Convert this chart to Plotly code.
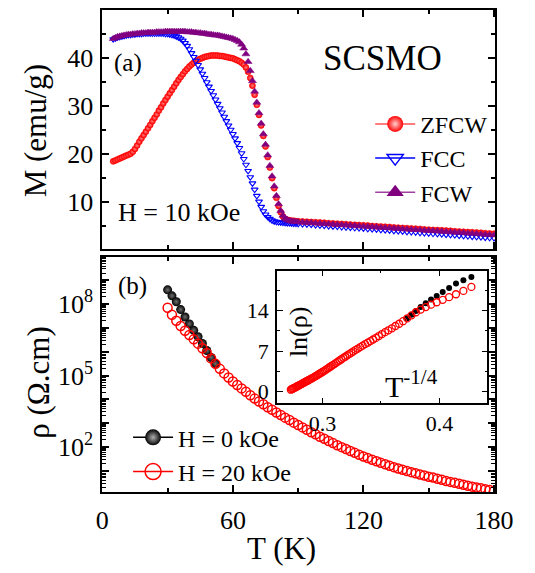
import numpy as np
import plotly.graph_objects as go

# ---------------- data: panel (a) magnetization ----------------
T_M = list(range(5, 91)) + list(range(92, 181, 2))

M_ZFCW = [
    18.5, 18.7, 18.9, 19.1, 19.3, 19.5, 19.7, 19.9, 20.1, 20.5,   # 5-14
    21.1, 21.8, 22.6, 23.3, 24.0, 24.7, 25.4, 26.1, 26.9, 27.6,   # 15-24
    28.3, 29.1, 29.8, 30.6, 31.3, 32.0, 32.7, 33.4, 34.1, 34.8,   # 25-34
    35.5, 36.1, 36.7, 37.3, 37.8, 38.3, 38.7, 39.1, 39.4, 39.7,   # 35-44
    39.9, 40.1, 40.3, 40.4, 40.5, 40.6, 40.6, 40.6, 40.6, 40.5,   # 45-54
    40.5, 40.4, 40.3, 40.2, 40.1, 40.0, 39.8, 39.6, 39.4, 39.1,   # 55-64
    38.7, 38.1, 37.2, 35.9, 34.3, 32.4, 30.3, 28.2, 26.0, 23.8,   # 65-74
    21.6, 19.4, 17.2, 15.0, 12.9, 10.9, 9.2, 7.9, 7.0, 6.5,       # 75-84
    6.3, 6.2, 6.1, 6.1, 6.0, 6.0,                                 # 85-90
    5.95, 5.9, 5.85, 5.8, 5.75, 5.7, 5.6, 5.55, 5.5, 5.45,        # 92-110
    5.4, 5.3, 5.25, 5.2, 5.15, 5.1, 5.0, 4.95, 4.9, 4.85,         # 112-130
    4.8, 4.7, 4.65, 4.6, 4.55, 4.5, 4.45, 4.4, 4.3, 4.25,         # 132-150
    4.2, 4.15, 4.1, 4.05, 4.0, 3.9, 3.85, 3.8, 3.75, 3.7,         # 152-170
    3.65, 3.6, 3.5, 3.45, 3.4,                                    # 172-180
]

M_FCC = [
    44.0, 44.2, 44.4, 44.5, 44.6, 44.7, 44.8, 44.9, 44.9, 45.0,   # 5-14
    45.0, 45.1, 45.1, 45.1, 45.2, 45.2, 45.2, 45.2, 45.2, 45.2,   # 15-24
    45.2, 45.2, 45.2, 45.2, 45.1, 45.1, 45.0, 44.9, 44.8, 44.6,   # 25-34
    44.4, 44.1, 43.7, 43.2, 42.6, 41.9, 41.1, 40.3, 39.5, 38.6,   # 35-44
    37.7, 36.8, 35.9, 35.0, 34.1, 33.2, 32.3, 31.4, 30.5, 29.6,   # 45-54
    28.7, 27.8, 26.9, 26.0, 25.1, 24.2, 23.3, 22.3, 21.3, 20.2,   # 55-64
    19.0, 17.8, 16.5, 15.2, 13.9, 12.6, 11.3, 10.1, 9.0, 8.1,     # 65-74
    7.4, 6.9, 6.5, 6.2, 6.0, 5.9, 5.8, 5.75, 5.7, 5.65,           # 75-84
    5.6, 5.6, 5.55, 5.5, 5.5, 5.45,                               # 85-90
    5.4, 5.35, 5.3, 5.2, 5.15, 5.1, 5.0, 4.95, 4.9, 4.8,          # 92-110
    4.75, 4.7, 4.6, 4.55, 4.5, 4.4, 4.35, 4.3, 4.2, 4.15,         # 112-130
    4.1, 4.0, 3.95, 3.9, 3.8, 3.75, 3.7, 3.6, 3.55, 3.5,          # 132-150
    3.4, 3.35, 3.3, 3.2, 3.15, 3.1, 3.0, 2.95, 2.9, 2.8,          # 152-170
    2.75, 2.7, 2.6, 2.55, 2.5,                                    # 172-180
]

M_FCW = [
    44.1, 44.3, 44.5, 44.6, 44.7, 44.8, 44.9, 45.0, 45.0, 45.1,   # 5-14
    45.1, 45.2, 45.2, 45.3, 45.3, 45.3, 45.4, 45.4, 45.4, 45.4,   # 15-24
    45.5, 45.5, 45.5, 45.5, 45.6, 45.6, 45.6, 45.6, 45.6, 45.6,   # 25-34
    45.6, 45.6, 45.6, 45.6, 45.5, 45.5, 45.5, 45.4, 45.4, 45.3,   # 35-44
    45.3, 45.2, 45.2, 45.1, 45.0, 45.0, 44.9, 44.8, 44.8, 44.7,   # 45-54
    44.6, 44.5, 44.4, 44.3, 44.2, 44.1, 43.9, 43.7, 43.4, 42.9,   # 55-64
    42.1, 40.9, 39.3, 37.4, 35.3, 33.1, 30.8, 28.6, 26.4, 24.2,   # 65-74
    22.0, 19.8, 17.6, 15.4, 13.3, 11.3, 9.6, 8.2, 7.2, 6.6,       # 75-84
    6.3, 6.1, 6.0, 5.95, 5.9, 5.85,                               # 85-90
    5.8, 5.75, 5.7, 5.6, 5.55, 5.5, 5.45, 5.4, 5.3, 5.25,         # 92-110
    5.2, 5.15, 5.1, 5.0, 4.95, 4.9, 4.85, 4.8, 4.7, 4.65,         # 112-130
    4.6, 4.55, 4.5, 4.4, 4.35, 4.3, 4.25, 4.2, 4.1, 4.05,         # 132-150
    4.0, 3.95, 3.9, 3.8, 3.75, 3.7, 3.65, 3.6, 3.5, 3.45,         # 152-170
    3.4, 3.3, 3.25, 3.2, 3.1,                                     # 172-180
]

# ---------------- data: panel (b) resistivity (log10 of rho) ----------------
T_R20 = list(range(30, 181, 2))
LOG_RHO_H20 = [
    7.85, 7.55, 7.30, 7.08, 6.88, 6.70, 6.52, 6.34, 6.15, 5.95,   # 30-48
    5.72, 5.49, 5.28, 5.09, 4.92, 4.75, 4.60, 4.46, 4.32, 4.17,   # 50-68
    4.03, 3.91, 3.79, 3.67, 3.56, 3.45, 3.34, 3.23, 3.13, 3.02,   # 70-88
    2.92, 2.82, 2.72, 2.62, 2.53, 2.43, 2.34, 2.25, 2.16, 2.07,   # 90-108
    1.99, 1.91, 1.83, 1.75, 1.67, 1.60, 1.53, 1.46, 1.40, 1.33,   # 110-128
    1.27, 1.21, 1.15, 1.09, 1.04, 0.99, 0.94, 0.89, 0.84, 0.80,   # 130-148
    0.75, 0.71, 0.66, 0.62, 0.57, 0.53, 0.49, 0.45, 0.41, 0.37,   # 150-168
    0.33, 0.29, 0.26, 0.22, 0.19, 0.15,                           # 170-180
]
T_R0 = list(range(30, 53, 2))
LOG_RHO_H0 = [8.60, 8.35, 8.10, 7.77, 7.46, 7.17, 6.90, 6.63, 6.35, 6.05, 5.76, 5.50]

rho_H20 = [10 ** v for v in LOG_RHO_H20]
rho_H0 = [10 ** v for v in LOG_RHO_H0]
# inset: ln(rho) vs T^-1/4 (same measured data, transformed)
x_H20 = [t ** -0.25 for t in T_R20]
x_H0 = [t ** -0.25 for t in T_R0]
ln_H20 = [v * np.log(10) for v in LOG_RHO_H20]
ln_H0 = [v * np.log(10) for v in LOG_RHO_H0]

# ---------------- styling ----------------
W, H = 535, 573
FONT = "Liberation Serif, Times New Roman, Tinos, DejaVu Serif, serif"
RED, BLUE, PURPLE = "#ff0000", "#0000ff", "#800080"

def px(x):
    return x / W

def py(y):
    return 1 - y / H

fig = go.Figure()

# panel (a)
fig.add_trace(go.Scatter(x=T_M, y=M_ZFCW, mode="markers", xaxis="x", yaxis="y",
                         showlegend=False,
                         marker=dict(symbol="circle", size=6, color=RED,
                                     gradient=dict(type="radial", color="#ff8080"),
                                     line=dict(width=0.6, color=RED))))
fig.add_trace(go.Scatter(x=T_M, y=M_FCC, mode="markers", xaxis="x", yaxis="y",
                         showlegend=False,
                         marker=dict(symbol="triangle-down-open", size=6, color=BLUE,
                                     line=dict(width=1.1, color=BLUE))))
fig.add_trace(go.Scatter(x=T_M, y=M_FCW, mode="markers", xaxis="x", yaxis="y",
                         showlegend=False,
                         marker=dict(symbol="triangle-up", size=7, color=PURPLE,
                                     line=dict(width=0.5, color=PURPLE))))

# legend entries for panel (a)
fig.add_trace(go.Scatter(x=[None], y=[None], mode="lines+markers", name="ZFCW",
                         xaxis="x", yaxis="y", legend="legend",
                         line=dict(color="#ff5050", width=1.5),
                         marker=dict(symbol="circle", size=16, color=RED,
                                     gradient=dict(type="radial", color="#ffd0d0"))))
fig.add_trace(go.Scatter(x=[None], y=[None], mode="lines+markers", name="FCC",
                         xaxis="x", yaxis="y", legend="legend",
                         line=dict(color=BLUE, width=1.5),
                         marker=dict(symbol="triangle-down-open", size=14, color=BLUE,
                                     line=dict(width=1.5, color=BLUE))))
fig.add_trace(go.Scatter(x=[None], y=[None], mode="lines+markers", name="FCW",
                         xaxis="x", yaxis="y", legend="legend",
                         line=dict(color="#a040a0", width=1.5),
                         marker=dict(symbol="triangle-up", size=15, color=PURPLE)))

# panel (b)
fig.add_trace(go.Scatter(x=T_R0, y=rho_H0, mode="markers", xaxis="x2", yaxis="y2",
                         showlegend=False,
                         marker=dict(symbol="circle", size=9, color="black",
                                     gradient=dict(type="radial", color="#707070"))))
fig.add_trace(go.Scatter(x=T_R20, y=rho_H20, mode="markers", xaxis="x2", yaxis="y2",
                         showlegend=False,
                         marker=dict(symbol="circle-open", size=9, color=RED,
                                     line=dict(width=1.5, color=RED))))
fig.add_trace(go.Scatter(x=[None], y=[None], mode="lines+markers", name="H = 0 kOe",
                         xaxis="x2", yaxis="y2", legend="legend2",
                         line=dict(color="black", width=1.5),
                         marker=dict(symbol="circle", size=16, color="black",
                                     gradient=dict(type="radial", color="#b0b0b0"))))
fig.add_trace(go.Scatter(x=[None], y=[None], mode="lines+markers", name="H = 20 kOe",
                         xaxis="x2", yaxis="y2", legend="legend2",
                         line=dict(color=RED, width=1.5),
                         marker=dict(symbol="circle-open", size=16, color=RED,
                                     line=dict(width=1.5, color=RED))))

# inset
fig.add_trace(go.Scatter(x=x_H0, y=ln_H0, mode="markers", xaxis="x3", yaxis="y3",
                         showlegend=False,
                         marker=dict(symbol="circle", size=6, color="black")))
fig.add_trace(go.Scatter(x=x_H20, y=ln_H20, mode="markers", xaxis="x3", yaxis="y3",
                         showlegend=False,
                         marker=dict(symbol="circle-open", size=7, color=RED,
                                     line=dict(width=1.3, color=RED))))

axis_common = dict(showline=True, linecolor="black", linewidth=2, mirror="allticks",
                   ticks="inside", tickcolor="black", tickwidth=1.5, ticklen=7,
                   showgrid=False, zeroline=False,
                   tickfont=dict(family=FONT, size=26, color="black"))

xdom = [px(100), px(512)]
fig.update_layout(
    width=W, height=H, margin=dict(l=0, r=0, t=0, b=0),
    paper_bgcolor="white", plot_bgcolor="white",
    font=dict(family=FONT, color="black"),
    xaxis=dict(**axis_common, domain=xdom, anchor="y", range=[0, 180.5],
               tick0=0, dtick=60, showticklabels=False,
               minor=dict(ticks="inside", dtick=30, ticklen=4, tickwidth=1.5, tickcolor="black")),
    yaxis=dict(**axis_common, domain=[py(249), py(10)], anchor="x", range=[0.3, 50.1],
               tickvals=[10, 20, 30, 40], ticklabelstandoff=2,
               minor=dict(ticks="inside", dtick=5, tick0=0, ticklen=4, tickwidth=1.5, tickcolor="black")),
    xaxis2=dict(**axis_common, domain=xdom, anchor="y2", range=[0, 180.5],
                tick0=0, dtick=60, ticklabelstandoff=4,
                minor=dict(ticks="inside", dtick=30, ticklen=4, tickwidth=1.5, tickcolor="black")),
    yaxis2=dict(**axis_common, domain=[py(493), py(257)], anchor="x2", type="log",
                range=[0.1, 10.0],
                tickvals=[10 ** k for k in range(0, 11)],
                ticktext=["", "", "10<sup>2</sup>", "", "", "10<sup>5</sup>", "", "",
                          "10<sup>8</sup>", "", ""],
                ticklabelstandoff=2,
                minor=dict(ticks="inside", dtick="D1", ticklen=4, tickwidth=1.2, tickcolor="black")),
    xaxis3=dict(showline=True, linecolor="black", linewidth=1.5, mirror="allticks",
                ticks="inside", tickcolor="black", tickwidth=1.2, ticklen=6,
                showgrid=False, zeroline=False,
                tickfont=dict(family=FONT, size=22, color="black"),
                domain=[px(283), px(504)], anchor="y3", range=[0.261, 0.441],
                tickvals=[0.3, 0.4], ticktext=["0.3", "0.4"], ticklabelstandoff=0,
                minor=dict(ticks="inside", dtick=0.05, tick0=0.25, ticklen=3,
                           tickwidth=1.2, tickcolor="black")),
    yaxis3=dict(showline=True, linecolor="black", linewidth=1.5, mirror="allticks",
                ticks="inside", tickcolor="black", tickwidth=1.2, ticklen=6,
                showgrid=False, zeroline=False,
                tickfont=dict(family=FONT, size=22, color="black"),
                domain=[py(404), py(271)], anchor="x3", range=[-2.0, 20.9],
                tickvals=[0, 7, 14], ticklabelstandoff=2,
                minor=dict(ticks="inside", dtick=3.5, tick0=0, ticklen=3,
                           tickwidth=1.2, tickcolor="black")),
    legend=dict(x=px(381), y=py(102), xanchor="left", yanchor="top",
                bgcolor="rgba(0,0,0,0)", borderwidth=0, itemwidth=40,
                font=dict(family=FONT, size=24, color="black"), tracegroupgap=0),
    legend2=dict(x=px(127), y=py(416), xanchor="left", yanchor="top",
                 bgcolor="rgba(0,0,0,0)", borderwidth=0, itemwidth=40,
                 font=dict(family=FONT, size=24, color="black"), tracegroupgap=0),
)

def ann(text, x, y, size, angle=0, xanchor="center"):
    fig.add_annotation(text=text, x=px(x), y=py(y), xref="paper", yref="paper",
                       showarrow=False, textangle=angle, xanchor=xanchor, yanchor="middle",
                       font=dict(family=FONT, size=size, color="black"))

ann("SCSMO", 394, 59, 35)
ann("(a)", 127, 63, 25)
ann("H = 10 kOe", 180, 213, 26)
ann("(b)", 132, 287, 25)
ann("M (emu/g)", 30, 131, 31, angle=-90)
ann("ρ (Ω.cm)", 33, 383, 31, angle=-90)
ann("T (K)", 288, 549, 31)
ann("ln(ρ)", 306, 332, 26, angle=-90)
ann("T<sup>-1/4</sup>", 424, 385, 30)

fig.write_html("out.html")
